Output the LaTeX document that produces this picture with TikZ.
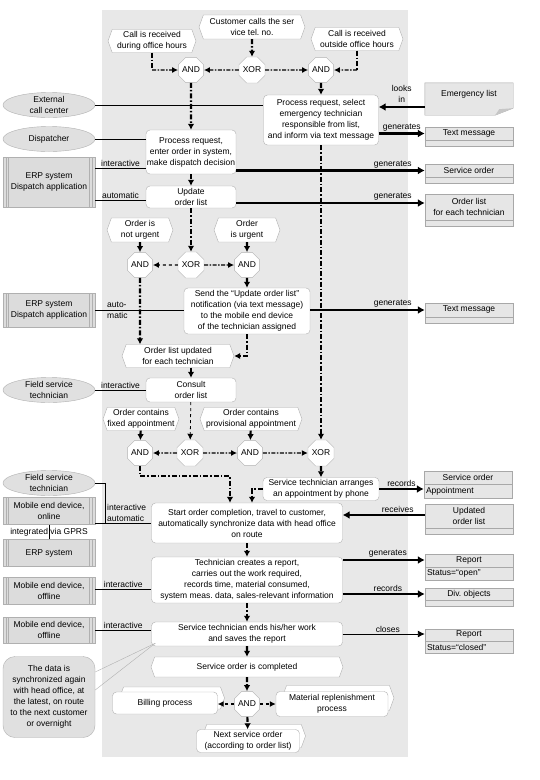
\documentclass[tikz,border=0pt]{standalone}
\usepackage{fontspec}
\setmainfont{Liberation Sans}
\usetikzlibrary{shapes.geometric,shapes.symbols,arrows.meta}
\definecolor{bggray}{HTML}{E8E8E8}
\definecolor{shpb}{HTML}{B0B0B0}
\definecolor{orgfill}{HTML}{E0E0E0}
\definecolor{sysfill}{HTML}{DCDCDC}
\definecolor{datfill}{HTML}{E6E6E6}
\definecolor{datb}{HTML}{A8A8A8}
\begin{document}
\begin{tikzpicture}[x=1pt,y=-1pt,
  font=\fontsize{8.5}{11}\selectfont,
  evt/.style n args={2}{signal, signal to=west and east, signal pointer angle=140,
     draw=shpb, fill=white, align=center, inner sep=0pt, minimum width=#1, minimum height=#2},
  fn/.style n args={2}{rectangle, rounded corners=4pt, draw=shpb, fill=white, align=center,
     inner sep=0pt, minimum width=#1, minimum height=#2},
  gate/.style={regular polygon, regular polygon sides=8, minimum size=26pt, inner sep=0pt,
     draw=shpb, fill=white},
  org/.style={ellipse, draw=shpb, fill=orgfill, minimum width=92pt, minimum height=25pt,
     inner sep=0pt, align=center},
  sys/.style={rectangle, draw=shpb, fill=sysfill, minimum width=92pt, minimum height=#1,
     inner sep=0pt, align=center,
     path picture={
       \foreach \d in {3pt,5.5pt}{
         \draw[shpb] ([xshift=\d]path picture bounding box.north west) -- ([xshift=\d]path picture bounding box.south west);
         \draw[shpb] ([xshift=-\d]path picture bounding box.north east) -- ([xshift=-\d]path picture bounding box.south east);}
     }},
  dat/.style={rectangle, draw=datb, fill=datfill, minimum width=88pt, minimum height=#1, inner sep=0pt},
  dtext/.style={inner sep=0pt, align=center},
  notebox/.style={rectangle, rounded corners=12pt, draw=shpb, fill=orgfill, minimum width=92pt,
     minimum height=81pt, inner sep=0pt, align=center},
  flowthick/.style={line width=2.2pt, dash pattern=on 5pt off 2pt on 1.5pt off 2pt,
     -{Latex[length=6pt,width=6.5pt]}},
  flowthin/.style={line width=1.2pt, dash pattern=on 4pt off 1.5pt on 1.5pt off 1.5pt,
     -{Latex[length=6pt,width=6pt]}},
  infoarr/.style={line width=2.5pt, -{Latex[length=7pt,width=8pt]}},
  infothin/.style={line width=0.9pt, -{Latex[length=7pt,width=7pt]}},
  orgl/.style={line width=0.7pt, black},
  lbl/.style={inner sep=1pt, align=center}
]
\useasboundingbox (0,0) rectangle (540,780);
\fill[white] (0,0) rectangle (540,780);
\fill[bggray] (102,10) rectangle (408,757);

% ---- top events and gates
\node[evt={106pt}{24pt}] (cust) at (252,27) {Customer calls the ser\\vice tel.\ no.};
\node[evt={88pt}{23pt}] (calld) at (152,41) {Call is received\\during office hours};
\node[evt={92pt}{23pt}] (callo) at (357,39) {Call is received\\outside office hours};
\node[gate] (and1) at (191,70) {AND};
\node[gate] (xor1) at (252,70) {XOR};
\node[gate] (and2) at (321,70) {AND};

% ---- functions
\node[fn={115pt}{50pt}] (emer) at (321,120) {Process request, select\\emergency technician\\responsible from list,\\and inform via text message};
\node[fn={90pt}{44pt}] (disp) at (191,152) {Process request,\\enter order in system,\\make dispatch decision};
\node[fn={90pt}{22pt}] (upd) at (191,197) {Update\\order list};

% ---- left organisation / systems
\node[org] (ext) at (49,105) {External\\call center};
\node[org] (dispr) at (49,139) {Dispatcher};
\node[sys=50pt] (erp1) at (49,182) {ERP system\\Dispatch application};

% ---- data objects right
\node[minimum width=88pt, minimum height=32pt, inner sep=0pt] (elist) at (469,99) {};
\filldraw[draw=datb, fill=datfill] (elist.north west) -- (elist.north east) -- ([yshift=7pt]elist.south east) -- ([xshift=-18pt]elist.south east) -- (elist.south west) -- cycle;
\fill[gray!45] ([yshift=7pt]elist.south east) -- ([xshift=-14pt,yshift=6pt]elist.south east) -- ([xshift=-18pt]elist.south east) -- cycle;
\node[dtext] (elistt) at (469,94) {Emergency list};

\node[dat=19pt] (tm1) at (469,136.5) {};
\draw[datb] ([yshift=6pt]tm1.south west) -- ([yshift=6pt]tm1.south east);
\node[dtext] (tm1t) at ([yshift=-6.5pt]tm1.north) {Text message};

\node[dat=19pt] (so1) at (469,173.5) {};
\draw[datb] ([yshift=6pt]so1.south west) -- ([yshift=6pt]so1.south east);
\node[dtext] (so1t) at ([yshift=-6.5pt]so1.north) {Service order};

\node[dat=32pt] (ol) at (469,210) {};
\draw[datb] ([yshift=6pt]ol.south west) -- ([yshift=6pt]ol.south east);
\node[dtext] (olt) at ([yshift=-13pt]ol.north) {Order list\\for each technician};

% ---- urgency branch
\node[evt={66pt}{24pt}] (notu) at (140,230) {Order is\\not urgent};
\node[evt={66pt}{24pt}] (urg) at (247,230) {Order\\is urgent};
\node[gate] (and3) at (140,265) {AND};
\node[gate] (xor2) at (191,265) {XOR};
\node[gate] (and4) at (247,265) {AND};
\node[fn={126pt}{46pt}] (send) at (247,311) {Send the ``Update order list''\\notification (via text message)\\to the mobile end device\\of the technician assigned};
\node[sys=34pt] (erp2) at (49,310) {ERP system\\Dispatch application};
\node[dat=20pt] (tm2) at (469,313) {};
\draw[datb] ([yshift=6pt]tm2.south west) -- ([yshift=6pt]tm2.south east);
\node[dtext] (tm2t) at ([yshift=-7pt]tm2.north) {Text message};
\node[evt={112pt}{23pt}] (olu) at (178,356) {Order list updated\\for each technician};

% ---- consult / appointment branch
\node[fn={90pt}{24pt}] (consult) at (191,390) {Consult\\order list};
\node[org] (fst1) at (49,390) {Field service\\technician};
\node[evt={76pt}{23pt}] (fixed) at (141,419) {Order contains\\fixed appointment};
\node[evt={102pt}{23pt}] (prov) at (251,419) {Order contains\\provisional appointment};
\node[gate] (and5) at (140,453) {AND};
\node[gate] (xor3) at (190,453) {XOR};
\node[gate] (and6) at (250,453) {AND};
\node[gate] (xor4) at (321,453) {XOR};
\node[fn={116pt}{23pt}] (arr) at (321,489) {Service technician arranges\\an appointment by phone};
\node[dat=27pt] (soa) at (468,484.5) {};
\draw[datb] (soa.west) -- (soa.east);
\node[dtext] (soat) at ([yshift=-6.75pt]soa.north) {Service order};
\node[dtext, anchor=west] (soab) at ([xshift=2pt,yshift=-6.75pt]soa.west) {Appointment};

% ---- execution
\node[fn={191pt}{40pt}] (start) at (247,523) {Start order completion, travel to customer,\\automatically synchronize data with head office\\on route};
\node[dat=30pt] (uol) at (469,519) {};
\draw[datb] ([yshift=6pt]uol.south west) -- ([yshift=6pt]uol.south east);
\node[dtext] (uolt) at ([yshift=-12pt]uol.north) {Updated\\order list};
\node[org] (fst2) at (49,483) {Field service\\technician};
\node[sys=27pt] (mobon) at (49,511) {Mobile end device,\\online};
\node[sys=27pt] (erp3) at (49,553) {ERP system};

\node[fn={191pt}{46pt}] (tech) at (247,580) {Technician creates a report,\\carries out the work required,\\records time, material consumed,\\system meas.\ data, sales-relevant information};
\node[sys=27pt] (moboff1) at (49,591) {Mobile end device,\\offline};
\node[dat=26pt] (rep1) at (469,567) {};
\draw[datb] (rep1.west) -- (rep1.east);
\node[dtext] (rep1t) at ([yshift=-6.5pt]rep1.north) {Report};
\node[dtext, anchor=west] (rep1b) at ([xshift=2pt,yshift=-6.5pt]rep1.west) {Status=``open''};
\node[dat=18pt] (div) at (469,597) {};
\draw[datb] ([yshift=6pt]div.south west) -- ([yshift=6pt]div.south east);
\node[dtext] (divt) at ([yshift=-6pt]div.north) {Div.\ objects};

\node[fn={191pt}{24pt}] (ends) at (247,634) {Service technician ends his/her work\\and saves the report};
\node[sys=26pt] (moboff2) at (49,630) {Mobile end device,\\offline};
\node[dat=24pt] (rep2) at (469,641) {};
\draw[datb] (rep2.west) -- (rep2.east);
\node[dtext] (rep2t) at ([yshift=-6pt]rep2.north) {Report};
\node[dtext, anchor=west] (rep2b) at ([xshift=2pt,yshift=-6pt]rep2.west) {Status=``closed''};

\node[evt={192pt}{20pt}] (socomp) at (247,667) {Service order is completed};
\node[gate] (and7) at (247,704) {AND};
\node[evt={105pt}{22pt}] (billbg) at (172,698) {};
\node[fn={105pt}{22pt}] (bill) at (165,703) {Billing process};
\node[evt={112pt}{25pt}] (matbg) at (338,698) {};
\node[fn={112pt}{25pt}] (mat) at (332,704) {Material replenishment\\process};
\node[evt={103pt}{23pt}] (nextbg) at (254,736) {};
\node[fn={103pt}{23pt}] (next) at (248,741) {Next service order\\(according to order list)};

\node[notebox] (note) at (49,697) {The data is\\synchronized again\\with head office, at\\the latest, on route\\to the next customer\\or overnight};
\draw[shpb] ([yshift=25pt]note.east) -- ([xshift=4pt,yshift=3pt]ends.south west);
\draw[shpb] ([yshift=7pt]note.east) -- ([xshift=4pt,yshift=3pt]ends.south west);

% ---- control flow
\draw[flowthick] (cust) -- (xor1);
\draw[flowthick,-] (calld.south) -- (calld.south |- and1);
\draw[flowthin] (calld.south |- and1) -- (and1);
\draw[flowthick,-] (callo.south) -- (callo.south |- and2);
\draw[flowthin] (callo.south |- and2) -- (and2);
\draw[flowthin] (xor1) -- (and1);
\draw[flowthin] (xor1) -- (and2);
\draw[flowthick] (and1) -- (disp);
\draw[flowthick] (and2) -- (emer);
\draw[flowthick] (emer) -- (xor4);
\draw[flowthick] (disp) -- (upd);
\draw[flowthick] (upd) -- (xor2);
\draw[flowthick] (notu) -- (and3);
\draw[flowthick] (urg) -- (and4);
\draw[flowthin,dashed] (xor2) -- (and3);
\draw[flowthin] (xor2) -- (and4);
\draw[flowthick] (and4) -- (send);
\draw[flowthick] (and3) -- (and3 |- olu.north);
\draw[flowthick] (send.south) |- (olu.east);
\draw[flowthick] (olu.south -| consult.north) -- (consult.north);
\draw[flowthin,dashed,line width=0.8pt] (consult) -- (xor3);
\draw[flowthick] (fixed) -- (and5);
\draw[flowthick] (prov) -- (and6);
\draw[flowthin] (xor3) -- (and5);
\draw[flowthin] (xor3) -- (and6);
\draw[flowthin] (and6) -- (xor4);
\coordinate (j1) at (230,476);
\draw[flowthick] (and5.south) |- (j1) -- (j1 |- start.north);
\draw[flowthick] (xor4) -- (arr);
\draw[flowthick] (arr.west) -| ([xshift=5pt]start.north);
\draw[flowthick] (start) -- (tech);
\draw[flowthick] (tech) -- (ends);
\draw[flowthick] (ends) -- (socomp);
\draw[flowthick] (socomp) -- (and7);
\draw[flowthin,dashed] (and7.west) -- (and7.west -| bill.east);
\draw[flowthin,dashed] (and7.east) -- (and7.east -| mat.west);
\draw[flowthick] (and7) -- (next);

% ---- information flow
\coordinate (a0) at ([yshift=-8pt]elist.west);
\draw[infoarr] (a0) -- node[lbl, above=2pt] {looks\\in} (a0 -| emer.east);
\coordinate (a1) at ([yshift=3pt]tm1.west);
\draw[infoarr] (a1 -| emer.east) -- node[lbl, above] {generates} (a1);
\coordinate (a2) at ([yshift=3pt]so1.west);
\draw[infoarr] (a2 -| disp.east) -- node[lbl, above, pos=0.83] {generates} (a2);
\coordinate (a3) at ([yshift=7pt]ol.west);
\draw[infoarr] (a3 -| upd.east) -- node[lbl, above, pos=0.83] {generates} (a3);
\coordinate (a4) at ([yshift=3pt]tm2.west);
\draw[infoarr] (a4 -| send.east) -- node[lbl, above, pos=0.72] {generates} (a4);
\draw[infoarr] (arr.east) -- node[lbl, above] {records} (arr.east -| soa.west);
\coordinate (a5) at ([yshift=4pt]uol.west);
\draw[infoarr] (a5) -- node[lbl, above, pos=0.33] {receives} (a5 -| start.east);
\coordinate (a6) at ([yshift=7pt]rep1.west);
\draw[infoarr] (a6 -| tech.east) -- node[lbl, above, pos=0.55] {generates} (a6);
\coordinate (a7) at ([yshift=3pt]div.west);
\draw[infoarr] (a7 -| tech.east) -- node[lbl, above, pos=0.55] {records} (a7);
\draw[infothin] (ends.east) -- node[lbl, above, pos=0.55] {closes} (ends.east -| rep2.west);

% ---- organisational lines
\draw[orgl] (ext.east) -- (ext.east -| emer.west);
\draw[orgl] (dispr.east) -- (dispr.east -| disp.west);
\coordinate (o1) at ([yshift=14pt]erp1.east);
\draw[orgl] (o1) -- node[lbl, above] {interactive} (o1 -| disp.west);
\coordinate (o2) at ([yshift=-18pt]erp1.east);
\draw[orgl] (o2) -- node[lbl, above] {automatic} (o2 -| upd.west);
\draw[orgl] (erp2.east) -- node[lbl, pos=0.25, align=left] {auto-\\matic} (erp2.east -| send.west);
\draw[orgl] (fst1.east) -- node[lbl, above] {interactive} (fst1.east -| consult.west);
\coordinate (o3) at (mobon.east |- start.west);
\draw[orgl] (o3) -- node[lbl, above, pos=0.56, align=left] {interactive\\automatic} (start.west);
\draw[orgl] (fst2.east) -| ([xshift=10pt]o3);
\draw[orgl] (mobon) -- node[lbl] {integrated via GPRS} (erp3);
\coordinate (o4) at ([yshift=2pt]moboff1.east);
\draw[orgl] (o4) -- node[lbl, above] {interactive} (o4 -| tech.west);
\draw[orgl] (moboff2.east) -- node[lbl, above] {interactive} (moboff2.east -| ends.west);
\end{tikzpicture}
\end{document}
